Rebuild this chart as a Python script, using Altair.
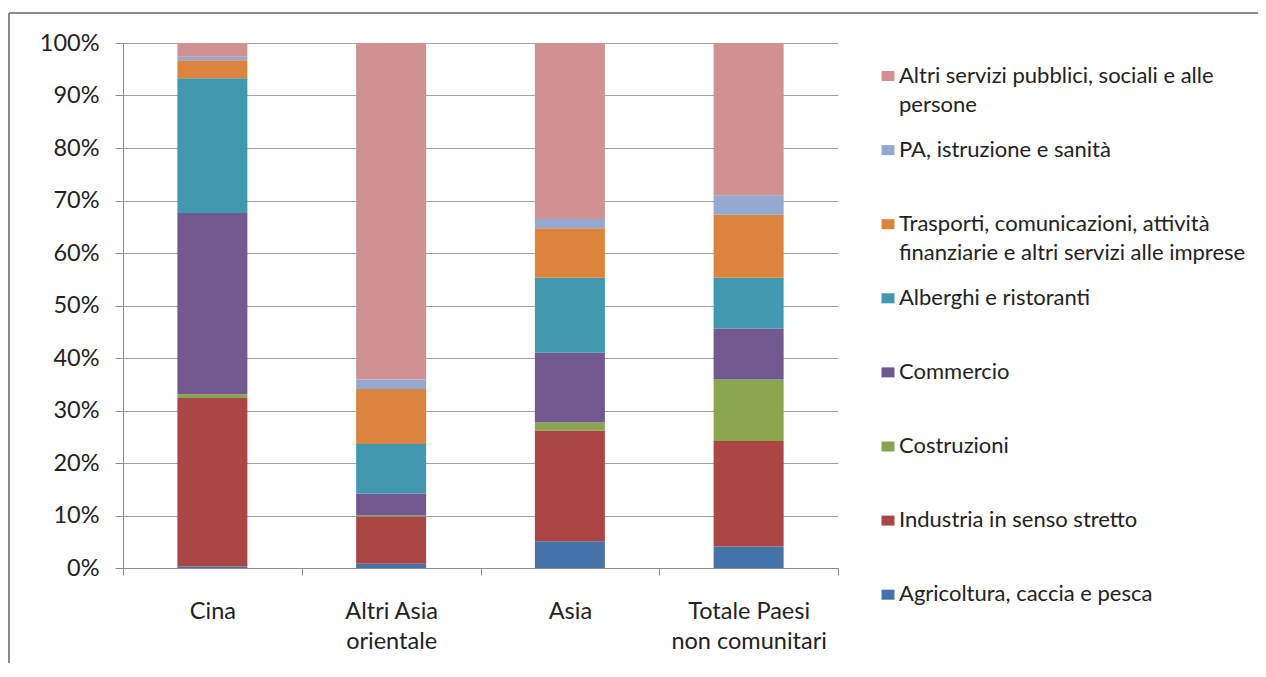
import altair as alt
import pandas as pd

categories = ["Cina", "Altri Asia\norientale", "Asia", "Totale Paesi\nnon comunitari"]

sectors = [
    "Agricoltura, caccia e pesca",
    "Industria in senso stretto",
    "Costruzioni",
    "Commercio",
    "Alberghi e ristoranti",
    "Trasporti, comunicazioni, attività\nfinanziarie e altri servizi alle imprese",
    "PA, istruzione e sanità",
    "Altri servizi pubblici, sociali e alle\npersone",
]

colors = ["#4572A7", "#AA4643", "#89A54E", "#71588F", "#4198AF", "#DB843D", "#93A9CF", "#D09291"]

agricoltura = [0.3, 0.8, 5.1, 4.1]
industria = [32.1, 9.0, 21.1, 20.1]
costruzioni = [0.7, 0.2, 1.5, 11.7]
commercio = [34.5, 4.2, 13.3, 9.7]
alberghi = [25.7, 9.4, 14.3, 9.7]
trasporti = [3.4, 10.5, 9.4, 12.0]
pa = [0.7, 1.8, 1.8, 3.7]
altri_servizi = [2.6, 64.1, 33.5, 29.0]

series = [agricoltura, industria, costruzioni, commercio, alberghi, trasporti, pa, altri_servizi]

rows = []
for si, (s, vals) in enumerate(zip(sectors, series)):
    for c, v in zip(categories, vals):
        rows.append({"cat": c, "sector": s, "idx": si, "value": v})
df = pd.DataFrame(rows)

FONT = "Lato"
AX_FS = 23.5
LEG_FS = 22
GRID = "#A0A0A0"
AXIS = "#8C8C8C"
TXT = "#222222"

color_scale = alt.Scale(domain=sectors, range=colors)

bars = alt.Chart(df).mark_bar(size=70).encode(
    x=alt.X(
        "cat:N",
        sort=categories,
        scale=alt.Scale(paddingInner=0, paddingOuter=0),
        axis=alt.Axis(
            title=None,
            labelAngle=0,
            labelExpr="split(datum.label, '\\n')",
            labelLineHeight=30,
            labelFont=FONT,
            labelFontSize=AX_FS,
            labelColor=TXT,
            labelPadding=24,
            tickBand="extent",
            tickSize=7,
            tickColor=AXIS,
            domainColor=AXIS,
            grid=False,
        ),
    ),
    y=alt.Y(
        "value:Q",
        stack="normalize",
        scale=alt.Scale(domain=[0, 1]),
        axis=alt.Axis(
            title=None,
            format=".0%",
            values=[i / 10 for i in range(11)],
            labelFont=FONT,
            labelFontSize=AX_FS,
            labelColor=TXT,
            labelPadding=16,
            tickSize=8,
            tickColor=AXIS,
            domainColor=AXIS,
            gridColor=GRID,
        ),
    ),
    color=alt.Color("sector:N", scale=color_scale, legend=None),
    order=alt.Order("idx:Q", sort="ascending"),
)

# custom legend (top item = last sector)
leg_rows = []
for k, s in enumerate(reversed(sectors)):
    leg_rows.append({"sector": s, "pos": 33 + 74.1 * k})
leg_df = pd.DataFrame(leg_rows)

ypos = alt.Y("pos:Q", scale=alt.Scale(domain=[0, 525], reverse=True), axis=None)

leg_sym = alt.Chart(leg_df).mark_point(
    shape="M-1.3,-1L1.3,-1L1.3,1L-1.3,1Z", filled=True, size=100, opacity=1
).encode(
    x=alt.value(765),
    y=ypos,
    color=alt.Color("sector:N", scale=color_scale, legend=None),
)

leg_txt = alt.Chart(leg_df).mark_text(
    align="left", baseline="line-top", lineBreak="\n", lineHeight=29,
    font=FONT, fontSize=LEG_FS, color=TXT, dy=-14.5,
).encode(
    x=alt.value(776),
    y=ypos,
    text="sector:N",
)

border_left = alt.Chart(alt.Data(values=[{}])).mark_rule(color="#8A8A8A", strokeWidth=2).encode(
    x=alt.value(-114), y=alt.value(-30), y2=alt.value(700)
)
border_top = alt.Chart(alt.Data(values=[{}])).mark_rule(color="#8A8A8A", strokeWidth=2).encode(
    x=alt.value(-114), x2=alt.value(1200), y=alt.value(-30)
)

chart = alt.layer(bars, leg_sym, leg_txt, border_left, border_top).resolve_scale(
    x="independent", y="independent"
).properties(
    width=715,
    height=525,
    padding={"left": 115, "top": 35, "right": 420, "bottom": 95},
    autosize=alt.AutoSizeParams(type="none"),
).configure_view(stroke=None)

chart.save("out.html", embed_options={"renderer": "svg", "actions": False})
